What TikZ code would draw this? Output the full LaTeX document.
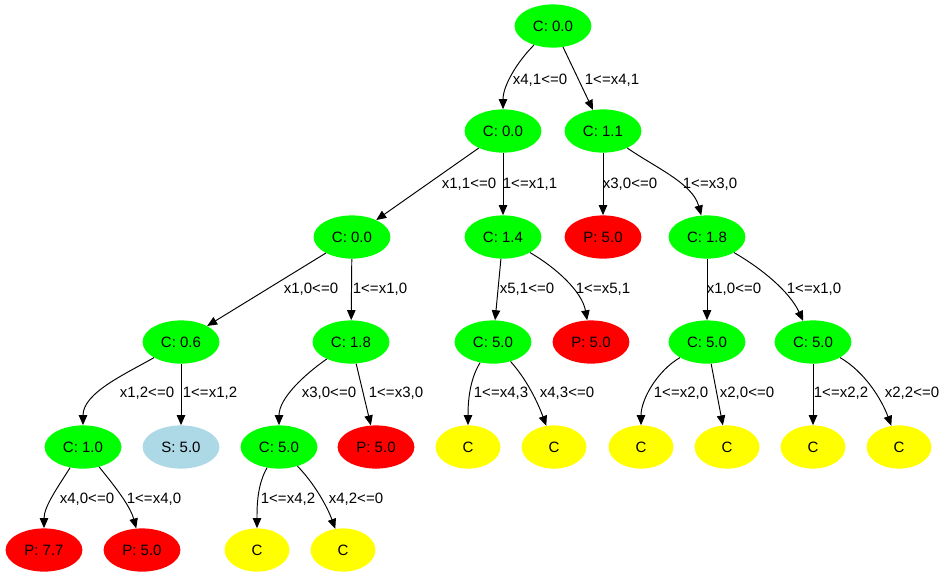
\documentclass[tikz,border=0pt]{standalone}
\usepackage{fontspec}
\setmainfont{Liberation Sans}
\usetikzlibrary{shapes.geometric,arrows.meta}
\definecolor{cgreen}{RGB}{0,255,0}
\definecolor{cred}{RGB}{255,0,0}
\definecolor{cblue}{RGB}{173,216,230}
\definecolor{cyellow}{RGB}{255,255,0}
\begin{document}
\begin{tikzpicture}[x=0.8333pt, y=-0.8333pt,
    font=\fontsize{12.5}{15}\selectfont,
    vertex/.style={ellipse, inner sep=0pt, minimum width=64pt, minimum height=36pt},
    cnode/.style={vertex, fill=cgreen},
    pnode/.style={vertex, fill=cred},
    snode/.style={vertex, fill=cblue},
    onode/.style={vertex, fill=cyellow, minimum width=54pt},
    branch/.style={-{Triangle[length=8.3pt,width=7pt]}, line width=0.8pt, looseness=0.85},
    lbl/.style={inner sep=0pt}]
    \useasboundingbox (0,0) rectangle (942,577);

    % Root and first level
    \node[cnode] (r) at (553,26) {C: 0.0};
    \node[cnode] (n1) at (503,131) {C: 0.0};
    \node[cnode] (n2) at (603,131) {C: 1.1};

    % Second level
    \node[cnode] (n3) at (352,237) {C: 0.0};
    \node[cnode] (n4) at (503,237) {C: 1.4};
    \node[pnode] (n5) at (603,237) {P: 5.0};
    \node[cnode] (n6) at (707,237) {C: 1.8};

    % Third level
    \node[cnode] (n7) at (181,342) {C: 0.6};
    \node[cnode] (n8) at (351,342) {C: 1.8};
    \node[cnode] (n9) at (493,342) {C: 5.0};
    \node[pnode] (n10) at (591,342) {P: 5.0};
    \node[cnode] (n11) at (707,342) {C: 5.0};
    \node[cnode] (n12) at (813,342) {C: 5.0};

    % Fourth level
    \node[cnode] (n13) at (83,447) {C: 1.0};
    \node[snode] (n14) at (181,447) {S: 5.0};
    \node[cnode] (n15) at (279,447) {C: 5.0};
    \node[pnode] (n16) at (376,447) {P: 5.0};
    \node[onode] (n17) at (468,447) {C};
    \node[onode] (n18) at (554,447) {C};
    \node[onode] (n19) at (641,447) {C};
    \node[onode] (n20) at (727,447) {C};
    \node[onode] (n21) at (813,447) {C};
    \node[onode] (n22) at (899,447) {C};

    % Fifth level
    \node[pnode] (n23) at (44,550) {P: 7.7};
    \node[pnode] (n24) at (142,550) {P: 5.0};
    \node[onode] (n25) at (257,550) {C};
    \node[onode] (n26) at (343,550) {C};

    % Branches with their conditions
    \draw[branch] (r) to[out=-135,in=90] (n1) node[lbl] at (540,80) {x4,1<=0};
    \draw[branch] (r) -- (n2) node[lbl] at (612,80) {1<=x4,1};
    \draw[branch] (n1) -- (n3) node[lbl] at (469,184) {x1,1<=0};
    \draw[branch] (n1) -- (n4) node[lbl] at (530,184) {1<=x1,1};
    \draw[branch] (n2) -- (n5) node[lbl] at (630,184) {x3,0<=0};
    \draw[branch] (n2) to[out=-35,in=105] (n6) node[lbl] at (710,184) {1<=x3,0};
    \draw[branch] (n3) -- (n7) node[lbl] at (311,289) {x1,0<=0};
    \draw[branch] (n3) -- (n8) node[lbl] at (380,289) {1<=x1,0};
    \draw[branch] (n4) -- (n9) node[lbl] at (527,289) {x5,1<=0};
    \draw[branch] (n4) to[out=-30,in=100] (n10) node[lbl] at (603,289) {1<=x5,1};
    \draw[branch] (n6) -- (n11) node[lbl] at (734,289) {x1,0<=0};
    \draw[branch] (n6) to[out=-30,in=115] (n12) node[lbl] at (814,289) {1<=x1,0};
    \draw[branch] (n7) to[out=-150,in=90] (n13) node[lbl] at (147,393) {x1,2<=0};
    \draw[branch] (n7) -- (n14) node[lbl] at (210,393) {1<=x1,2};
    \draw[branch] (n8) to[out=-145,in=90] (n15) node[lbl] at (329,393) {x3,0<=0};
    \draw[branch] (n8) -- (n16) node[lbl] at (396,393) {1<=x3,0};
    \draw[branch] (n9) to[out=-122,in=90] (n17) node[lbl] at (501,393) {1<=x4,3};
    \draw[branch] (n9) to[out=-48,in=110] (n18) node[lbl] at (567,393) {x4,3<=0};
    \draw[branch] (n11) to[out=-150,in=90] (n19) node[lbl] at (681,393) {1<=x2,0};
    \draw[branch] (n11) -- (n20) node[lbl] at (747,393) {x2,0<=0};
    \draw[branch] (n12) -- (n21) node[lbl] at (841,393) {1<=x2,2};
    \draw[branch] (n12) to[out=-30,in=110] (n22) node[lbl] at (912,393) {x2,2<=0};
    \draw[branch] (n13) to[out=-122,in=90] (n23) node[lbl] at (87,499) {x4,0<=0};
    \draw[branch] (n13) to[out=-51,in=105] (n24) node[lbl] at (154,499) {1<=x4,0};
    \draw[branch] (n15) to[out=-120,in=90] (n25) node[lbl] at (288,499) {1<=x4,2};
    \draw[branch] (n15) to[out=-46,in=110] (n26) node[lbl] at (356,499) {x4,2<=0};
\end{tikzpicture}
\end{document}
